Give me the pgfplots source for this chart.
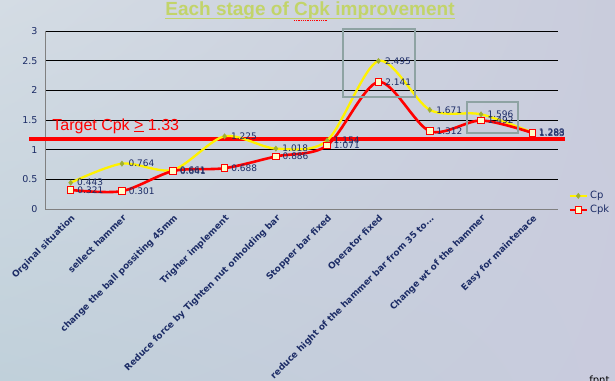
\documentclass[border=0pt]{standalone}
\usepackage{fontspec}
\setmainfont{DejaVu Sans}
\newfontfamily\arial{Liberation Sans}
\usepackage{pgfplots}
\pgfplotsset{compat=1.18}
\usetikzlibrary{shadings}
\definecolor{navy}{HTML}{1C2C66}
\definecolor{titlegreen}{HTML}{C2D46A}
\definecolor{boxgrey}{HTML}{8EA3A3}
\definecolor{mkgreen}{HTML}{A0B030}
\definecolor{mkfill}{HTML}{FFFFC8}
\definecolor{bgul}{RGB}{212,220,228}
\definecolor{bgur}{RGB}{201,204,220}
\definecolor{bgll}{RGB}{192,208,218}
\definecolor{bglr}{RGB}{201,203,221}
\begin{document}
\begin{tikzpicture}[x=1pt,y=1pt]
\useasboundingbox (0,0) rectangle (615,380);
\shade[upper left=bgul, upper right=bgur, lower left=bgll, lower right=bglr] (0,0) rectangle (615,380);
\node[font=\arial\bfseries\fontsize{19}{22}\selectfont, text=titlegreen, anchor=base, inner sep=0pt] (T) at (310,364) {Each stage of Cpk improvement};
\draw[titlegreen, line width=1.6pt] (T.west |- 0,361.5) -- (T.east |- 0,361.5);
\draw[red, densely dotted, line width=0.8pt] (294,359.6) -- (327,359.6);
\node[font=\fontsize{10}{12}\selectfont, anchor=base east] at (613,-3) {fpnt};
\begin{axis}[
  at={(45pt,171pt)}, anchor=south west,
  scale only axis, width=513pt, height=178pt,
  xmin=-0.5, xmax=9.5, ymin=0, ymax=3,
  xtick={0,1,2,3,4,5,6,7,8,9},
  xticklabels={{Orginal situation},{sellect hammer},{change the ball possiting 45mm},{Trigher implement},{Reduce force by Tighten nut onholding bar},{Stopper bar fixed},{Operator fixed},{reduce hight of the hammer bar from 35 to.{}.{}.},{Change wt of the hammer},{Easy for maintenace}},
  ytick={0,0.5,1,1.5,2,2.5,3},
  yticklabels={0,0.5,1,1.5,2,2.5,3},
  ymajorgrids, grid style={black, line width=0.8pt},
  axis x line*=bottom, axis y line*=left,
  axis line style={draw=gray, line width=0.8pt},
  major tick length=0pt,
  /pgf/number format/assume math mode=true,
  yticklabel style={font=\fontsize{9.5}{11}\selectfont, text=navy, xshift=-4pt},
  xticklabel style={rotate=45, anchor=north east, font=\bfseries\fontsize{8.9}{10}\selectfont, text=navy},
  clip=false,
  legend style={at={(1.02,0.034)}, anchor=west, draw=none, fill=none, font=\fontsize{10}{12}\selectfont, text=navy, row sep=1pt, inner sep=0pt},
  legend cell align=left,
  every node near coord/.append style={anchor=west, font=\fontsize{9}{11}\selectfont, text=navy, xshift=3pt},
  nodes near coords={\pgfmathprintnumber[fixed,precision=3,fixed zerofill,assume math mode=true]{\pgfplotspointmeta}},
]
\draw[red, line width=3.5pt] (axis cs:-0.81,1.18) -- (axis cs:9.64,1.18);
\node[font=\arial\fontsize{16}{19}\selectfont, text=red, anchor=west, inner sep=0pt] at (axis cs:-0.36,1.40) {Target Cpk \underline{>} 1.33};
\addplot[yellow, line width=2.3pt, smooth, tension=0.5, mark=diamond*, mark size=2.6pt, mark options={fill=mkgreen, draw=mkgreen, line width=0.5pt}]
 coordinates {(0,0.443)(1,0.764)(2,0.661)(3,1.225)(4,1.018)(5,1.154)(6,2.495)(7,1.671)(8,1.596)(9,1.288)};
\addlegendentry{Cp}
\addplot[red, line width=2.6pt, smooth, tension=0.5, mark=square*, mark size=3.3pt, mark options={fill=mkfill, draw=red, line width=1pt}]
 coordinates {(0,0.321)(1,0.301)(2,0.641)(3,0.688)(4,0.886)(5,1.071)(6,2.141)(7,1.312)(8,1.492)(9,1.283)};
\addlegendentry{Cpk}
\draw[boxgrey, line width=2pt] (axis cs:5.31,3.035) rectangle (axis cs:6.71,1.89);
\draw[boxgrey, line width=2pt] (axis cs:7.73,1.80) rectangle (axis cs:8.72,1.28);
\end{axis}
\end{tikzpicture}
\end{document}
